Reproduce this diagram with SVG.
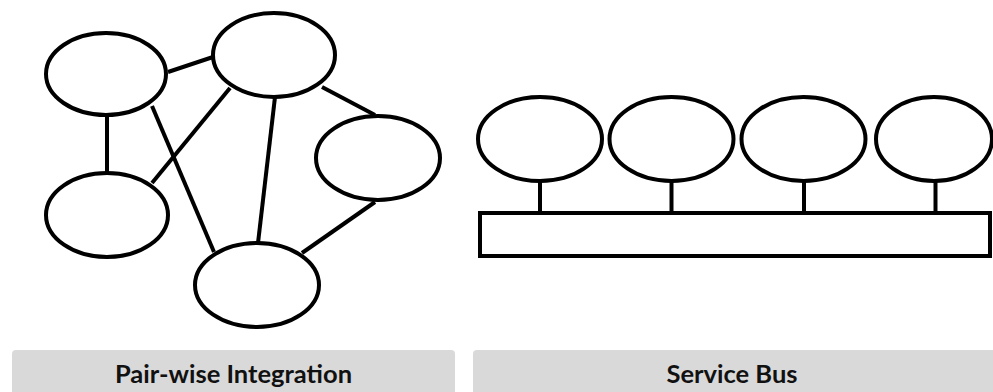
<svg xmlns="http://www.w3.org/2000/svg" width="993" height="392" viewBox="0 0 993 392">
<style>
.n{fill:#fff;stroke:#000;stroke-width:4}
.c{stroke:#000;stroke-width:4;fill:none}
.lb{fill:#d9d9d9}
.t{font-family:Lato,"Open Sans","Liberation Sans",sans-serif;font-weight:bold;font-size:25.5px;fill:#111;text-anchor:middle}
</style>
<rect width="993" height="392" fill="#fff"/>
<g id="connectors">
<line class="c" x1="168" y1="72" x2="213" y2="57"/>
<line class="c" x1="107" y1="116" x2="107" y2="173"/>
<line class="c" x1="152" y1="106" x2="214" y2="252"/>
<line class="c" x1="152" y1="183" x2="230" y2="88"/>
<line class="c" x1="275" y1="97" x2="258" y2="243"/>
<line class="c" x1="322" y1="87" x2="375" y2="115"/>
<line class="c" x1="375" y1="202" x2="302" y2="253"/>
<line class="c" x1="540" y1="182" x2="540" y2="213"/>
<line class="c" x1="671.5" y1="182" x2="671.5" y2="213"/>
<line class="c" x1="804" y1="182" x2="804" y2="213"/>
<line class="c" x1="935.5" y1="182" x2="935.5" y2="213"/>
</g>
<g id="p1"><ellipse class="n" cx="106" cy="74" rx="60" ry="41"/></g>
<g id="p2"><ellipse class="n" cx="274" cy="55" rx="61" ry="42"/></g>
<g id="p3"><ellipse class="n" cx="378" cy="158" rx="62" ry="42"/></g>
<g id="p4"><ellipse class="n" cx="107" cy="215" rx="61" ry="42"/></g>
<g id="p5"><ellipse class="n" cx="257" cy="285" rx="62" ry="42"/></g>
<g id="s1"><ellipse class="n" cx="540" cy="139" rx="62" ry="42"/></g>
<g id="s2"><ellipse class="n" cx="671.5" cy="139" rx="62" ry="42"/></g>
<g id="s3"><ellipse class="n" cx="803.5" cy="139" rx="62" ry="42"/></g>
<g id="s4"><ellipse class="n" cx="934" cy="139" rx="58" ry="42"/></g>
<g id="bus"><rect class="n" x="480" y="213" width="510" height="43"/></g>
<g id="label1"><path class="lb" d="M12 392V354a4 4 0 0 1 4-4H451a4 4 0 0 1 4 4V392Z"/><text class="t" x="233.5" y="383">Pair-wise Integration</text></g>
<g id="label2"><path class="lb" d="M473 392V354a4 4 0 0 1 4-4H993V392Z"/><text class="t" x="732" y="383">Service Bus</text></g>
</svg>
